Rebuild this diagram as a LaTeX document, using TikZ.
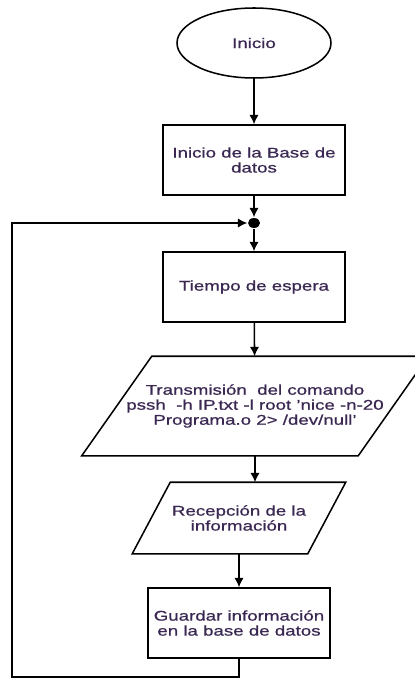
\documentclass[tikz,border=0pt]{standalone}
\usepackage{fontspec}
\setmainfont{Liberation Sans}[FakeStretch=1.33,FakeBold=0.8]
\usepackage{tikz}
\usetikzlibrary{shapes.geometric,arrows.meta}
\definecolor{texto}{RGB}{58,40,82}

\begin{document}
\begin{tikzpicture}[x=0.03cm,y=-0.03cm,line width=1.3pt,
                      letra/.style={text=texto,align=center,font=\fontsize{12}{12.8}\selectfont},
                      caja/.style={letra,draw,rectangle,minimum width=5.46cm,minimum height=2.1cm},
                      flecha/.style={-{Latex[length=8pt,width=8pt]},black}]
                      \useasboundingbox (0,0) rectangle (414,680);
                      \node[letra,draw,ellipse,minimum width=4.62cm,minimum height=2.1cm](inicio)at(254,43){Inicio};
                      \node[caja](base)at(254,160){Inicio de la Base de\\datos};
                      \node[ellipse,fill,inner sep=0pt,minimum width=0.36cm,minimum height=0.3cm](punto)at(254,223){};
                      \node[caja](espera)at(254,287){Tiempo de espera};
                      \node[letra,minimum width=8.25cm,minimum height=2.94cm](envio)at(255,406)
                            {Transmisión\ \ del comando\\pssh\ \ -h IP.txt -l root 'nice -n-20\\Programa.o 2> /dev/null'};
                      \draw([xshift=-1.05cm]envio.south west)--([xshift=-1.05cm]envio.south east)
                           --([xshift=1.05cm]envio.north east)--([xshift=1.05cm]envio.north west)--cycle;
                      \node[letra,minimum width=5.22cm,minimum height=2.1cm](recep)at(239,518){Recepción de la\\información};
                      \draw([xshift=-0.57cm]recep.south west)--([xshift=-0.57cm]recep.south east)
                           --([xshift=0.57cm]recep.north east)--([xshift=0.57cm]recep.north west)--cycle;
                      \node[caja](guardar)at(239,623){Guardar información\\en la base de datos};
                      \coordinate (esq) at (12,677);
                      \draw[flecha](inicio)--(base);
                      \draw[flecha](base)--(punto);
                      \draw[flecha](punto)--(espera);
                      \draw[flecha](espera)--(envio);
                      \draw[flecha](envio.south)--(envio.south |- recep.north);
                      \draw[flecha](recep)--(guardar);
                      \draw[flecha](guardar.south)|-(esq)|-(punto);
                  \end{tikzpicture}
\end{document}
